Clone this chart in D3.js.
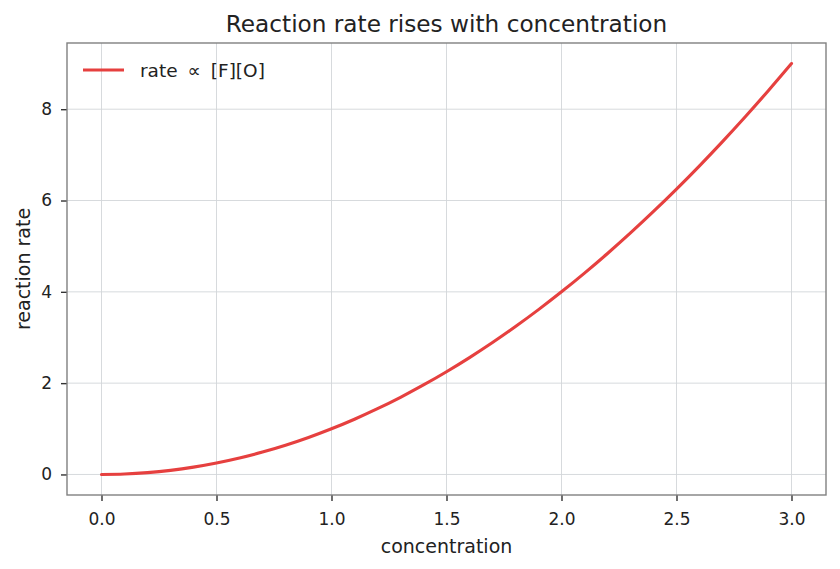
<!DOCTYPE html>
<html><head><meta charset="utf-8">
<script src="https://cdn.jsdelivr.net/npm/d3@7"></script>
<style>
body{margin:0;background:#fff;}
text{font-family:"DejaVu Sans",sans-serif;}
</style></head>
<body><svg id="c" width="840" height="569"></svg>
<script>
const concentration = [0.0,0.1,0.2,0.3,0.4,0.5,0.6,0.7,0.8,0.9,1.0,1.1,1.2,1.3,1.4,1.5,1.6,1.7,1.8,1.9,2.0,2.1,2.2,2.3,2.4,2.5,2.6,2.7,2.8,2.9,3.0];
const rate = [0.0,0.01,0.04,0.09,0.16,0.25,0.36,0.49,0.64,0.81,1.0,1.21,1.44,1.69,1.96,2.25,2.56,2.89,3.24,3.61,4.0,4.41,4.84,5.29,5.76,6.25,6.76,7.29,7.84,8.41,9.0];
const xTicks = [0.0,0.5,1.0,1.5,2.0,2.5,3.0];
const yTicks = [0,2,4,6,8];
const titleText = "Reaction rate rises with concentration";
const xLabel = "concentration";
const yLabel = "reaction rate";
const legendParts = ["rate", "\u221d", "[F][O]"];

const svg = d3.select("#c");
const L=67, R=826, T=43, B=495;
const x = d3.scaleLinear().domain([-0.15,3.15]).range([L,R]);
const y = d3.scaleLinear().domain([-0.45,9.45]).range([B,T]);
const red = "#e6403f";

// grid
const g = svg.append("g");
g.selectAll(".gx").data(xTicks).enter().append("line")
 .attr("x1",d=>x(d)).attr("x2",d=>x(d)).attr("y1",T).attr("y2",B)
 .attr("stroke","#d3d6d9").attr("stroke-width",0.9);
g.selectAll(".gy").data(yTicks).enter().append("line")
 .attr("y1",d=>y(d)).attr("y2",d=>y(d)).attr("x1",L).attr("x2",R)
 .attr("stroke","#d3d6d9").attr("stroke-width",0.9);

// axes
const xa = svg.append("g").attr("transform",`translate(0,${B})`)
 .call(d3.axisBottom(x).tickValues(xTicks).tickFormat(d3.format(".1f")).tickSizeOuter(0).tickSize(6).tickPadding(12));
const ya = svg.append("g").attr("transform",`translate(${L},0)`)
 .call(d3.axisLeft(y).tickValues(yTicks).tickFormat(d3.format("d")).tickSizeOuter(0).tickSize(6).tickPadding(9));
[xa,ya].forEach(a=>{
  a.select(".domain").remove();
  a.selectAll(".tick line").attr("stroke","#333").attr("stroke-width",1.4);
  a.selectAll(".tick text").attr("fill","#222").style("font-size","17px").style("font-family","DejaVu Sans");
});

// line
svg.append("path").datum(concentration.map((c,i)=>[c,rate[i]]))
 .attr("fill","none").attr("stroke",red).attr("stroke-width",3.1)
 .attr("stroke-linecap","round")
 .attr("d",d3.line().x(d=>x(d[0])).y(d=>y(d[1])).curve(d3.curveMonotoneX));

// frame
svg.append("rect").attr("x",L).attr("y",T).attr("width",R-L).attr("height",B-T)
 .attr("fill","none").attr("stroke","#808080").attr("stroke-width",1.4);

// title & labels
svg.append("text").attr("x",(L+R)/2).attr("y",32).attr("text-anchor","middle")
 .attr("fill","#222").style("font-size","23.2px").text(titleText);
svg.append("text").attr("x",(L+R)/2).attr("y",553).attr("text-anchor","middle")
 .attr("fill","#222").style("font-size","19px").text(xLabel);
svg.append("text").attr("transform",`translate(30,${(T+B)/2}) rotate(-90)`).attr("text-anchor","middle")
 .attr("fill","#222").style("font-size","19px").text(yLabel);

// legend
svg.append("line").attr("x1",83).attr("x2",124).attr("y1",70).attr("y2",70)
 .attr("stroke",red).attr("stroke-width",3.1);
const lt = svg.append("text").attr("x",140).attr("y",77).attr("fill","#222").style("font-size","18.5px");
lt.append("tspan").text(legendParts[0]);
lt.append("tspan").attr("dx",10).text(legendParts[1]);
lt.append("tspan").attr("dx",10).text(legendParts[2]);
</script></body></html>
